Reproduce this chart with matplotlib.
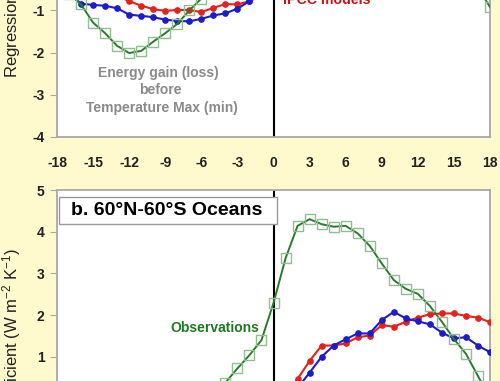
import numpy as np
import matplotlib
matplotlib.use('Agg')
import matplotlib.pyplot as plt
from matplotlib.patches import Rectangle

plt.rcParams['font.family'] = ['Liberation Sans', 'DejaVu Sans']
plt.rcParams['mathtext.default'] = 'regular'
plt.rcParams['axes.unicode_minus'] = False

# panel a (top, only lower part visible)
a_obs_x = [-18, -17, -16, -15, -14, -13, -12, -11, -10, -9, -8, -7, -6, -5, 17, 18]
a_obs_y = [-0.35, -0.6, -0.86, -1.29, -1.54, -1.84, -2.01, -1.96, -1.74, -1.54, -1.32, -1.0, -0.72, -0.4, -0.46, -0.92]
a_red_x = [-13, -12, -11, -10, -9, -8, -7, -6, -5, -4, -3, -2, -1]
a_red_y = [-0.65, -0.78, -0.89, -0.97, -1.01, -0.99, -0.99, -1.04, -0.94, -0.85, -0.86, -0.78, -0.65]
a_blue_x = [-18, -17, -16, -15, -14, -13, -12, -11, -10, -9, -8, -7, -6, -5, -4, -3, -2, -1]
a_blue_y = [-0.4, -0.6, -0.84, -0.87, -0.89, -0.95, -1.1, -1.13, -1.16, -1.22, -1.25, -1.26, -1.2, -1.12, -1.07, -0.96, -0.78, -0.55]

# panel b (bottom, only upper part visible)
b_obs_x = [-5, -4, -3, -2, -1, 0, 1, 2, 3, 4, 5, 6, 7, 8, 9, 10, 11, 12, 13, 14, 15, 16, 17, 18]
b_obs_y = [0.05, 0.38, 0.72, 1.04, 1.40, 2.29, 3.36, 4.14, 4.30, 4.18, 4.12, 4.14, 3.96, 3.66, 3.24,
           2.84, 2.63, 2.51, 2.22, 1.84, 1.43, 1.07, 0.54, 0.0]
b_red_x = [1, 2, 3, 4, 5, 6, 7, 8, 9, 10, 11, 12, 13, 14, 15, 16, 17, 18]
b_red_y = [0.05, 0.47, 0.90, 1.27, 1.27, 1.32, 1.47, 1.51, 1.76, 1.72, 1.84, 1.94, 2.02, 2.04, 2.04, 1.98, 1.94, 1.83]
b_blue_x = [1, 2, 3, 4, 5, 6, 7, 8, 9, 10, 11, 12, 13, 14, 15, 16, 17, 18]
b_blue_y = [-0.1, 0.25, 0.62, 1.0, 1.27, 1.42, 1.56, 1.56, 1.88, 2.08, 1.92, 1.85, 1.78, 1.58, 1.44, 1.47, 1.27, 1.11]

xticks = np.arange(-18, 19, 3)

bg = '#fffacd'
green = '#2b7a2b'
sq_edge = '#8fbf8f'
red = '#e3221c'
blue = '#1c1cc8'
frame = '#a8a8a8'

fig = plt.figure(figsize=(5, 3.81), dpi=100, facecolor=bg)

W, H = 500.0, 381.0
ax1 = fig.add_axes([57 / W, (H - 137) / H, 433 / W, 6 * 42.2 / H])
ax2 = fig.add_axes([57 / W, (H - 190) / H - 6 * 41.7 / H, 433 / W, 6 * 41.7 / H])


def style(ax):
    ax.set_xlim(-18, 18)
    ax.set_xticks(xticks)
    for s in ax.spines.values():
        s.set_color(frame)
        s.set_linewidth(1.3)
    ax.tick_params(axis='y', length=5, color=frame, pad=4, labelsize=10)
    ax.tick_params(axis='x', length=0, pad=14, labelsize=10)
    for lab in ax.get_xticklabels() + ax.get_yticklabels():
        lab.set_fontweight('bold')
        lab.set_color('#222222')
    ax.axvline(0, color='black', lw=1.5, zorder=1)


def draw(ax, ox, oy, rx, ry, bx, by):
    ax.plot(rx, ry, color=red, lw=1.5, marker='o', ms=3.8, zorder=3)
    ax.plot(bx, by, color=blue, lw=1.5, marker='o', ms=3.8, zorder=3)
    ax.plot(ox, oy, color=green, lw=1.4, zorder=4)
    ax.plot(ox, oy, ls='none', marker='s', ms=6.5, mfc='none', mec=sq_edge, mew=1.0, zorder=4)


ax1.set_ylim(-4, 2)
ax1.set_yticks([-4, -3, -2, -1])
draw(ax1, a_obs_x, a_obs_y, a_red_x, a_red_y, a_blue_x, a_blue_y)
style(ax1)

ax2.set_ylim(-1, 5)
ax2.set_yticks([1, 2, 3, 4, 5])
draw(ax2, b_obs_x, b_obs_y, b_red_x, b_red_y, b_blue_x, b_blue_y)
style(ax2)
ax2.tick_params(axis='x', labelbottom=False)

gray = '#8a8a8a'
ax1.text(-9.6, -2.48, 'Energy gain (loss)', ha='center', va='center', fontsize=10, fontweight='bold', color=gray)
ax1.text(-9.45, -2.88, 'before', ha='center', va='center', fontsize=10, fontweight='bold', color=gray)
ax1.text(-9.3, -3.31, 'Temperature Max (min)', ha='center', va='center', fontsize=10, fontweight='bold', color=gray)

fig.text(283 / W, (H - 4) / H, 'IPCC models', ha='left', va='baseline', fontsize=10.2, fontweight='bold', color='#d01010')

ax2.text(-4.9, 1.69, 'Observations', ha='center', va='center', fontsize=10, fontweight='bold', color='#1f7a1f')

# panel label box
ax_h = 6 * 41.7
ax2.add_patch(Rectangle((2 / 433, (ax_h - 34) / ax_h), 218 / 433, 27 / ax_h, transform=ax2.transAxes,
                        fc='white', ec='#999999', lw=1, zorder=5))
ax2.text(14 / 433, (ax_h - 20.5) / ax_h, 'b. 60\u00b0N-60\u00b0S Oceans', transform=ax2.transAxes,
         ha='left', va='center', fontsize=14, fontweight='bold', color='black', zorder=6)

ylab = 'Regression Coefficient (W m$^{-2}$ K$^{-1}$)'
fig.text(12 / W, (H - 78) / H, ylab, rotation=90, ha='center', va='bottom', fontsize=12, color='#222222')
fig.text(12 / W, (H - 248) / H, ylab, rotation=90, ha='center', va='top', fontsize=12, color='#222222')

fig.savefig('out.png', dpi=100, facecolor=bg)
